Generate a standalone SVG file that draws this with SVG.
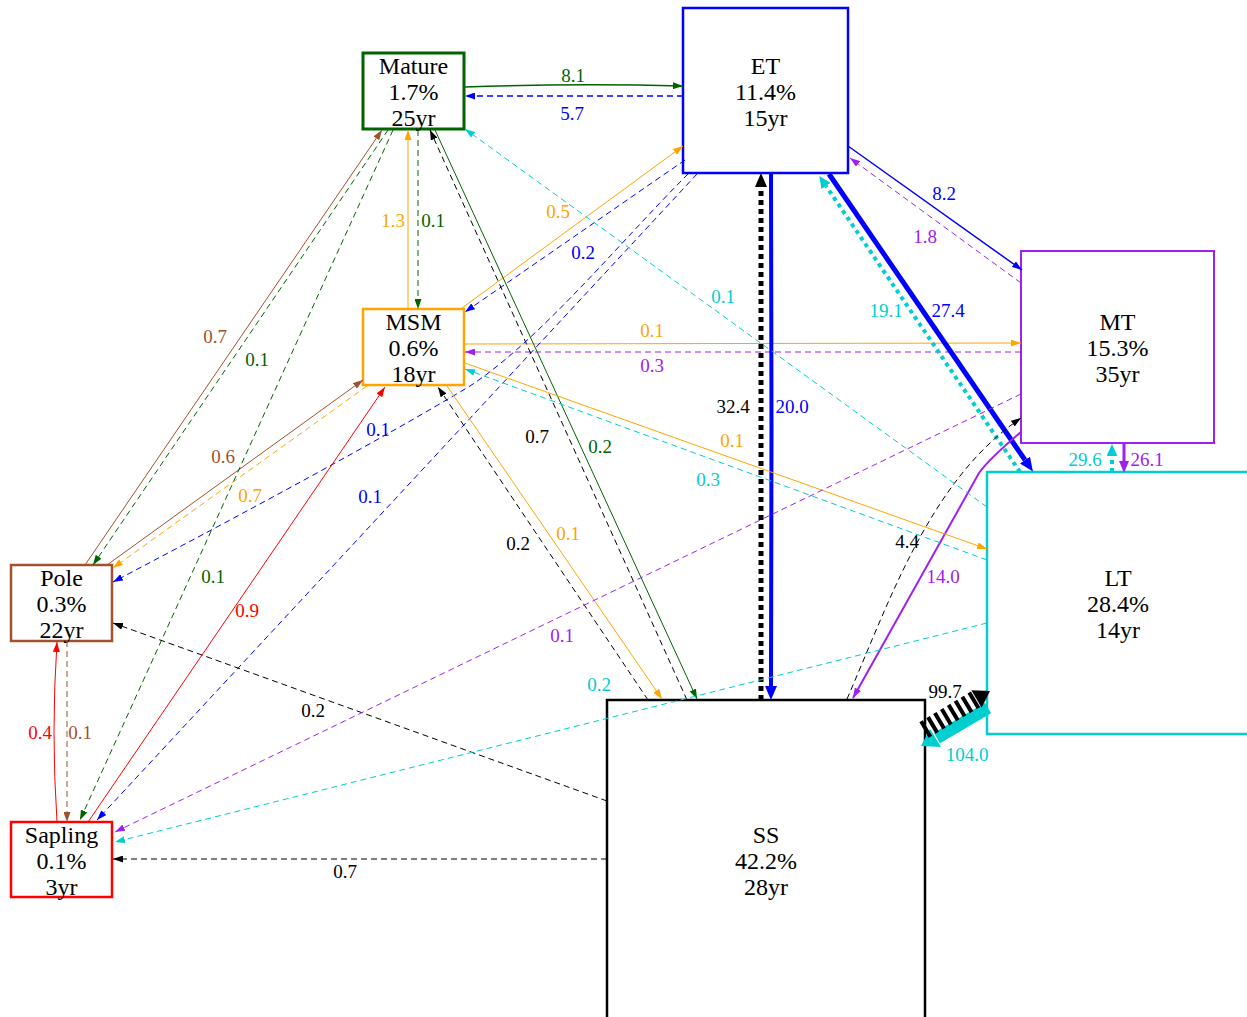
<svg xmlns="http://www.w3.org/2000/svg" width="1247" height="1017" viewBox="0 0 1247 1017">
<style>
.n{fill:#fff}
.nt{font-family:"Liberation Serif","Times New Roman","DejaVu Serif",serif;font-size:24px;text-anchor:middle;fill:#000}
.e{fill:none}
.d{stroke-dasharray:6,4}
.l{font-family:"Liberation Serif","Times New Roman","DejaVu Serif",serif;font-size:19px;text-anchor:middle}
.g{stroke:#006400}.b{stroke:#0000ff}.o{stroke:#ffa500}.p{stroke:#a020f0}.s{stroke:#a0522d}.r{stroke:#ff0000}.c{stroke:#00ced1}.k{stroke:#000}
.lg{fill:#006400}.lb{fill:#0000ff}.lo{fill:#ffa500}.lp{fill:#a020f0}.ls{fill:#a0522d}.lr{fill:#ff0000}.lc{fill:#00ced1}.lk{fill:#000}
</style>
<defs>
<marker id="ag" viewBox="0 0 10 7" refX="10" refY="3.5" markerWidth="10" markerHeight="7" markerUnits="userSpaceOnUse" orient="auto"><path d="M0,0L10,3.5L0,7z" fill="#006400"/></marker>
<marker id="ab" viewBox="0 0 10 7" refX="10" refY="3.5" markerWidth="10" markerHeight="7" markerUnits="userSpaceOnUse" orient="auto"><path d="M0,0L10,3.5L0,7z" fill="#0000ff"/></marker>
<marker id="ao" viewBox="0 0 10 7" refX="10" refY="3.5" markerWidth="10" markerHeight="7" markerUnits="userSpaceOnUse" orient="auto"><path d="M0,0L10,3.5L0,7z" fill="#ffa500"/></marker>
<marker id="ap" viewBox="0 0 10 7" refX="10" refY="3.5" markerWidth="10" markerHeight="7" markerUnits="userSpaceOnUse" orient="auto"><path d="M0,0L10,3.5L0,7z" fill="#a020f0"/></marker>
<marker id="as" viewBox="0 0 10 7" refX="10" refY="3.5" markerWidth="10" markerHeight="7" markerUnits="userSpaceOnUse" orient="auto"><path d="M0,0L10,3.5L0,7z" fill="#a0522d"/></marker>
<marker id="ar" viewBox="0 0 10 7" refX="10" refY="3.5" markerWidth="10" markerHeight="7" markerUnits="userSpaceOnUse" orient="auto"><path d="M0,0L10,3.5L0,7z" fill="#ff0000"/></marker>
<marker id="ac" viewBox="0 0 10 7" refX="10" refY="3.5" markerWidth="10" markerHeight="7" markerUnits="userSpaceOnUse" orient="auto"><path d="M0,0L10,3.5L0,7z" fill="#00ced1"/></marker>
<marker id="ak" viewBox="0 0 10 7" refX="10" refY="3.5" markerWidth="10" markerHeight="7" markerUnits="userSpaceOnUse" orient="auto"><path d="M0,0L10,3.5L0,7z" fill="#000"/></marker>
<marker id="Ab" viewBox="0 0 14 12" refX="0" refY="6" markerWidth="14" markerHeight="12" markerUnits="userSpaceOnUse" orient="auto"><path d="M0,0L14,6L0,12z" fill="#0000ff"/></marker>
<marker id="Ak" viewBox="0 0 14 12" refX="0" refY="6" markerWidth="14" markerHeight="12" markerUnits="userSpaceOnUse" orient="auto"><path d="M0,0L14,6L0,12z" fill="#000"/></marker>
<marker id="Ac" viewBox="0 0 12 11" refX="0" refY="5.5" markerWidth="12" markerHeight="11" markerUnits="userSpaceOnUse" orient="auto"><path d="M0,0L12,5.5L0,11z" fill="#00ced1"/></marker>
<marker id="Ap" viewBox="0 0 12 10" refX="0" refY="5" markerWidth="12" markerHeight="10" markerUnits="userSpaceOnUse" orient="auto"><path d="M0,0L12,5L0,10z" fill="#a020f0"/></marker>
</defs>

<g id="nodes" stroke-width="2.5">
<g id="n-mature"><rect class="n" x="363" y="53" width="101" height="76" stroke="#006400" stroke-width="3"/><text class="nt" x="413.5" y="74">Mature</text><text class="nt" x="413.5" y="100">1.7%</text><text class="nt" x="413.5" y="126">25yr</text></g>
<g id="n-et"><rect class="n" x="683" y="8" width="165" height="165" stroke="#0000ff"/><text class="nt" x="765.5" y="74">ET</text><text class="nt" x="765.5" y="100">11.4%</text><text class="nt" x="765.5" y="126">15yr</text></g>
<g id="n-msm"><rect class="n" x="363" y="309" width="101" height="76" stroke="#ffa500"/><text class="nt" x="413.5" y="330">MSM</text><text class="nt" x="413.5" y="356">0.6%</text><text class="nt" x="413.5" y="382">18yr</text></g>
<g id="n-mt"><rect class="n" x="1021" y="251" width="193" height="192" stroke="#a020f0" stroke-width="2"/><text class="nt" x="1117.5" y="330">MT</text><text class="nt" x="1117.5" y="356">15.3%</text><text class="nt" x="1117.5" y="382">35yr</text></g>
<g id="n-pole"><rect class="n" x="11" y="565" width="101" height="76" stroke="#a0522d"/><text class="nt" x="61.5" y="586">Pole</text><text class="nt" x="61.5" y="612">0.3%</text><text class="nt" x="61.5" y="638">22yr</text></g>
<g id="n-lt"><rect class="n" x="987" y="472" width="290" height="262" stroke="#00ced1"/><text class="nt" x="1118" y="586">LT</text><text class="nt" x="1118" y="612">28.4%</text><text class="nt" x="1118" y="638">14yr</text></g>
<g id="n-sapling"><rect class="n" x="11" y="822" width="101" height="75" stroke="#ff0000"/><text class="nt" x="61.5" y="843">Sapling</text><text class="nt" x="61.5" y="869">0.1%</text><text class="nt" x="61.5" y="895">3yr</text></g>
<g id="n-ss"><rect class="n" x="607" y="700" width="318" height="340" stroke="#000"/><text class="nt" x="766" y="843">SS</text><text class="nt" x="766" y="869">42.2%</text><text class="nt" x="766" y="895">28yr</text></g>
</g>

<g id="connectors" stroke-width="1">
<path class="e g" stroke-width="1.5" d="M465,87Q574,83 683,86" marker-end="url(#ag)"/>
<path class="e b d" stroke-width="1.5" d="M683,96L465,96" marker-end="url(#ab)"/>
<path class="e o" d="M408,309L408,130" marker-end="url(#ao)"/>
<path class="e g d" d="M418,130L418,309" marker-end="url(#ag)"/>
<path class="e o" d="M462,308L683,146" marker-end="url(#ao)"/>
<path class="e b d" d="M685,160L465,312" marker-end="url(#ab)"/>
<path class="e o" d="M465,344L1021,343" marker-end="url(#ao)"/>
<path class="e p d" d="M1021,352L465,352" marker-end="url(#ap)"/>
<path class="e s" d="M85,565L382,130" marker-end="url(#as)"/>
<path class="e g d" d="M388,130L93,565" marker-end="url(#ag)"/>
<path class="e s" d="M107,565L363,380" marker-end="url(#as)"/>
<path class="e o d" d="M367,386L113,568" marker-end="url(#ao)"/>
<path class="e b d" d="M688,174C620,242 540,340 470,386C380,440 250,510 113,582" marker-end="url(#ab)"/>
<path class="e b d" d="M697,174L97,820" marker-end="url(#ab)"/>
<path class="e g d" d="M393,130L80,820" marker-end="url(#ag)"/>
<path class="e r" d="M88,822L385,387" marker-end="url(#ar)"/>
<path class="e r" d="M57,822Q51,731 57,642" marker-end="url(#ar)"/>
<path class="e s d" d="M67,641L67,822" marker-end="url(#as)"/>
<path class="e k d" d="M607,801L113,623" marker-end="url(#ak)"/>
<path class="e k d" d="M607,859L113,859" marker-end="url(#ak)"/>
<path class="e b" stroke-width="1.5" d="M848,146L1022,270" marker-end="url(#ab)"/>
<path class="e p d" d="M1021,283L850,158" marker-end="url(#ap)"/>
<path class="e c" stroke-width="4" stroke-dasharray="4,4" d="M1020,472L826,186" marker-end="url(#Ac)"/>
<path class="e b" stroke-width="5" d="M829,174L1025,460" marker-end="url(#Ab)"/>
<path class="e c" stroke-width="4" stroke-dasharray="4,4" d="M1112,472L1112,456" marker-end="url(#Ac)"/>
<path class="e p" stroke-width="3" d="M1124,444L1124,461" marker-end="url(#Ap)"/>
<path class="e k d" d="M847,699C890,600 930,480 1021,418" marker-end="url(#ak)"/>
<path class="e p" stroke-width="2" d="M1021,432Q990,458 979,473L853,698" marker-end="url(#ap)"/>
<g id="e-lt-ss"><path class="e c" stroke-width="12" d="M988,708L937,738"/><path d="M941,747L930,729L921,746z" fill="#00ced1"/></g>
<g id="e-ss-lt"><path class="e k" stroke-width="18" stroke-dasharray="4,4" d="M924,730L976,699"/><path d="M981.6,707.7L971.4,690.3L990,691z" fill="#000"/></g>
<path class="e k" stroke-width="5" stroke-dasharray="5,4" d="M761,700L761,187" marker-end="url(#Ak)"/>
<path class="e b" stroke-width="4" d="M771,174Q772,430 771,686" marker-end="url(#Ab)"/>
<path class="e c d" d="M987,507L465,129" marker-end="url(#ac)"/>
<path class="e k d" d="M687,700L430,130" marker-end="url(#ak)"/>
<path class="e g" d="M435,130L697,699" marker-end="url(#ag)"/>
<path class="e o" d="M465,363L987,549" marker-end="url(#ao)"/>
<path class="e c d" d="M987,560L465,369" marker-end="url(#ac)"/>
<path class="e k d" d="M648,700L438,387" marker-end="url(#ak)"/>
<path class="e o" d="M447,386L662,699" marker-end="url(#ao)"/>
<path class="e p d" d="M1021,394L115,832" marker-end="url(#ap)"/>
<path class="e c d" d="M987,623L115,842" marker-end="url(#ac)"/>
</g>

<g id="labels">
<text class="l lg" x="573" y="82">8.1</text>
<text class="l lb" x="572" y="120">5.7</text>
<text class="l lo" x="393" y="227">1.3</text>
<text class="l lg" x="433" y="227">0.1</text>
<text class="l lo" x="558" y="218">0.5</text>
<text class="l lb" x="583" y="259">0.2</text>
<text class="l lo" x="652" y="337">0.1</text>
<text class="l lp" x="652" y="372">0.3</text>
<text class="l ls" x="215" y="343">0.7</text>
<text class="l lg" x="257" y="366">0.1</text>
<text class="l ls" x="223" y="463">0.6</text>
<text class="l lo" x="250" y="502">0.7</text>
<text class="l lb" x="378" y="436">0.1</text>
<text class="l lb" x="370" y="503">0.1</text>
<text class="l lg" x="213" y="583">0.1</text>
<text class="l lr" x="247" y="617">0.9</text>
<text class="l lr" x="40" y="739">0.4</text>
<text class="l ls" x="80" y="739">0.1</text>
<text class="l lk" x="313" y="717">0.2</text>
<text class="l lk" x="345" y="878">0.7</text>
<text class="l lb" x="944" y="200">8.2</text>
<text class="l lp" x="925" y="243">1.8</text>
<text class="l lc" x="886" y="317">19.1</text>
<text class="l lb" x="948" y="317">27.4</text>
<text class="l lc" x="1085" y="466">29.6</text>
<text class="l lp" x="1147" y="466">26.1</text>
<text class="l lk" x="907" y="548">4.4</text>
<text class="l lp" x="943" y="583">14.0</text>
<text class="l lk" x="945" y="698">99.7</text>
<text class="l lc" x="967" y="761">104.0</text>
<text class="l lk" x="733" y="413">32.4</text>
<text class="l lb" x="792" y="413">20.0</text>
<text class="l lc" x="723" y="303">0.1</text>
<text class="l lk" x="537" y="443">0.7</text>
<text class="l lg" x="600" y="453">0.2</text>
<text class="l lo" x="732" y="447">0.1</text>
<text class="l lc" x="708" y="486">0.3</text>
<text class="l lk" x="518" y="550">0.2</text>
<text class="l lo" x="568" y="540">0.1</text>
<text class="l lp" x="562" y="642">0.1</text>
<text class="l lc" x="599" y="691">0.2</text>
</g>
</svg>
